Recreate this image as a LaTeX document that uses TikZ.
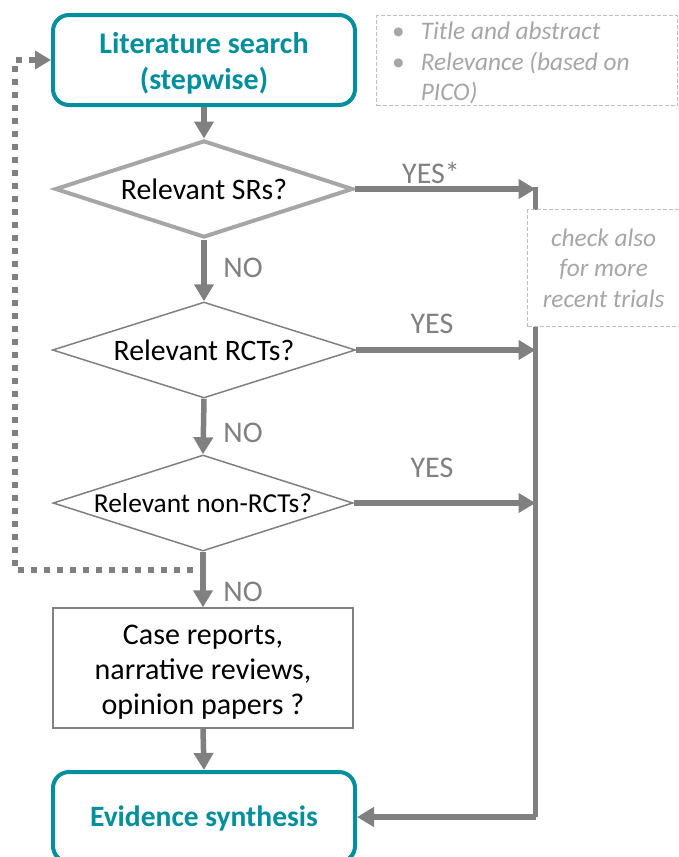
\documentclass[tikz,border=0pt]{standalone}
\usepackage{fontspec}
\setmainfont{Carlito}
\usetikzlibrary{shapes.geometric,arrows.meta,calc}
\definecolor{teal}{RGB}{0,143,155}
\definecolor{arrgray}{RGB}{128,128,128}
\definecolor{lightgray}{RGB}{166,166,166}
\definecolor{notegray}{RGB}{190,190,190}
\definecolor{notetext}{RGB}{166,166,166}
\begin{document}
\begin{tikzpicture}[x=1pt,y=-1pt,
  mainbox/.style={draw=teal, line width=4pt, rounded corners=16pt, inner sep=0pt},
  maintext/.style={text=teal, font=\fontsize{30}{36}\selectfont\bfseries,
    align=center, inner sep=0pt},
  decision/.style={shape=diamond, aspect=3.1, draw=arrgray, line width=1.5pt, inner sep=0pt,
    font=\fontsize{29.7}{34}\selectfont, align=center},
  plainbox/.style={draw=arrgray, line width=1.5pt, inner sep=0pt},
  plaintext/.style={inner sep=0pt, align=center, font=\fontsize{30}{35}\selectfont},
  notebox/.style={draw=notegray, dash pattern=on 4pt off 2pt, line width=1.3pt,
    fill=white, inner sep=0pt,
    text=notetext, font=\fontsize{25.3}{30.5}\selectfont\itshape},
  flow/.style={line width=5.5pt, draw=arrgray, -{Triangle[length=17pt,width=19pt]}},
  loopback/.style={line width=5.5pt, draw=arrgray, dash pattern=on 6pt off 7pt,
    -{Triangle[length=16pt,width=18pt]}},
  answer/.style={text=arrgray, font=\fontsize{30}{34}\selectfont, inner sep=0pt},
]
\clip (0,0) rectangle (679,857);
\fill[white] (0,0) rectangle (679,857);

% process boxes
\node[mainbox, minimum width=302pt, minimum height=90pt] (search) at (204,60) {};
\node[maintext] (searchtext) at ($(search.center)+(0,3)$)
  {Literature search\\(stepwise)};
\node[mainbox, minimum width=302pt, minimum height=90pt] (synth) at (204,817) {};
\node[maintext, font=\fontsize{29.5}{36}\selectfont\bfseries] (synthtext)
  at ($(synth.center)+(0,1)$) {Evidence synthesis};

% decisions
\node[decision, draw=lightgray, line width=4pt, minimum width=298pt, minimum height=97pt]
  (srs) at (204,189) {Relevant SRs?};
\node[decision, minimum width=303pt, minimum height=96pt] (rcts) at (204,350)
  {Relevant RCTs?};
\node[decision, minimum width=300pt, minimum height=96pt,
  font=\fontsize{27.4}{32}\selectfont] (nonrcts) at (203,503) {Relevant non-RCTs?};

\node[plainbox, minimum width=300pt, minimum height=120pt] (other) at (203,668) {};
\node[plaintext] (othertext) at ($(other.center)+(0,4)$)
  {Case reports,\\narrative reviews,\\opinion papers ?};

% search notes
\node[notebox, minimum width=301pt, minimum height=90pt, anchor=north west] (scope)
  at (376,15) {};
\node[anchor=north west, inner sep=0pt, text=notetext,
  font=\fontsize{25.3}{30.5}\selectfont\itshape] (scopetext) at (392,18)
  {\begin{tabular}{@{}l@{\hspace{16pt}}l@{}}
    \upshape\textbullet & Title and abstract\\
    \upshape\textbullet & Relevance (based on\\
     & PICO)
  \end{tabular}};

% right-hand rail into the synthesis
\coordinate (railtop) at (535.5,187);
\coordinate (railbot) at (535.5,817);
\draw[flow, -] (railtop) -- (railbot);
\draw[flow] (railbot) -- (synth.east);

\node[notebox, minimum width=152pt, minimum height=117pt, align=center,
  anchor=north west] (recent) at (527,209) {check also\\for more\\recent trials};

% main flow
\draw[flow] (search.south) -- (srs.north);
\draw[flow] (srs.south) -- (rcts.north);
\draw[flow] (rcts.south) -- (nonrcts.north);
\draw[flow] (nonrcts.south) -- (other.north);
\draw[flow] (other.south) -- (synth.north);

\draw[flow] (srs.east) -- (srs.east -| railtop);
\draw[flow] (rcts.east) -- (rcts.east -| railtop);
\draw[flow] (nonrcts.east) -- (nonrcts.east -| railtop);

\node[answer] (yes1) at (431,173) {YES*};
\node[answer] (yes2) at (432,324) {YES};
\node[answer] (yes3) at (432,468) {YES};
\node[answer] (no1) at (243,268) {NO};
\node[answer] (no2) at (243,433) {NO};
\node[answer] (no3) at (243,592) {NO};

% loop back to the search
\coordinate (loopstart) at (206,570);
\coordinate (loopcorner) at (15,570);
\draw[loopback] (loopstart) -- (loopcorner) |- (search.west);
\end{tikzpicture}
\end{document}
